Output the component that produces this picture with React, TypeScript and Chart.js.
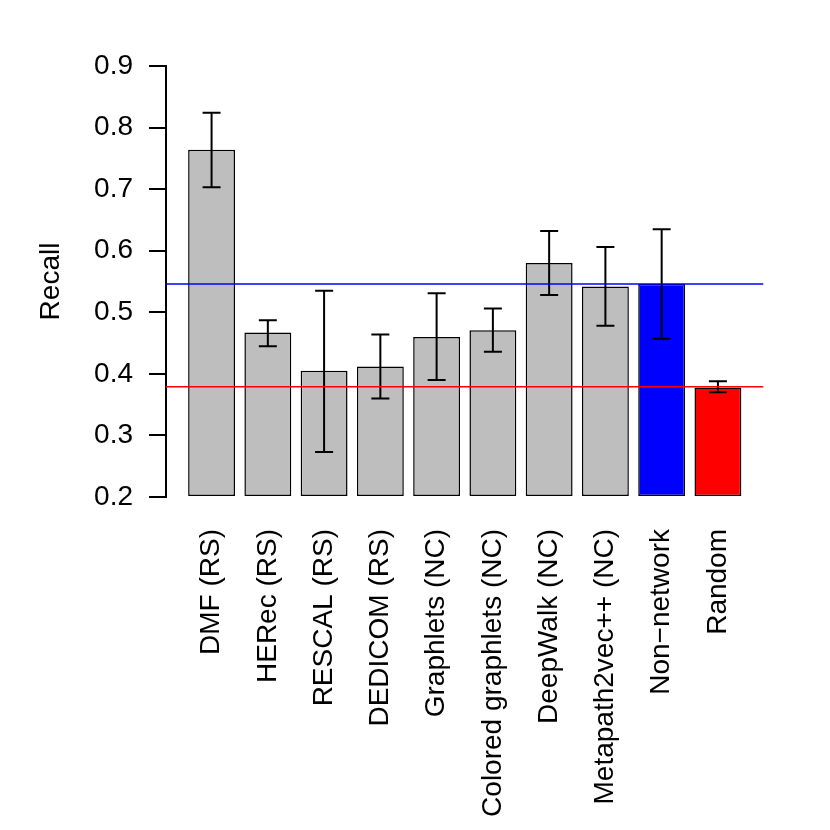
import React, { useEffect, useRef } from "react";
import { Chart, registerables } from "chart.js";

Chart.register(...registerables);

const categories = [
  "DMF (RS)",
  "HERec (RS)",
  "RESCAL (RS)",
  "DEDICOM (RS)",
  "Graphlets (NC)",
  "Colored graphlets (NC)",
  "DeepWalk (NC)",
  "Metapath2vec++ (NC)",
  "Non\u2212network",
  "Random",
];
const recall = [0.764, 0.467, 0.405, 0.412, 0.460, 0.471, 0.580, 0.542, 0.546, 0.378];
const errLow = [0.703, 0.445, 0.273, 0.360, 0.390, 0.436, 0.528, 0.478, 0.457, 0.370];
const errHigh = [0.824, 0.487, 0.535, 0.464, 0.531, 0.506, 0.632, 0.606, 0.635, 0.388];
const barColors = ["#BEBEBE", "#BEBEBE", "#BEBEBE", "#BEBEBE", "#BEBEBE", "#BEBEBE", "#BEBEBE", "#BEBEBE", "#0000FF", "#FF0000"];
const nonNetworkLine = 0.546;
const randomLine = 0.379;
const yTicks = [0.2, 0.3, 0.4, 0.5, 0.6, 0.7, 0.8, 0.9];

// R barplot geometry: width 1, space 0.2
const centers = categories.map((_, i) => 0.7 + 1.2 * i);
const xMin = -0.272;
const xMax = 12.472;

const FONT = "'Liberation Sans', Arial, Helvetica, sans-serif";
const FS = 28;

const errorBarPlugin = {
  id: "errorBars",
  afterDatasetDraw(chart: any, args: any) {
    if (args.index !== 0) return;
    const ctx = chart.ctx;
    const yScale = chart.scales.y;
    const meta = chart.getDatasetMeta(0);
    ctx.save();
    ctx.strokeStyle = "#000";
    ctx.lineWidth = 2;
    meta.data.forEach((el: any, i: number) => {
      const x = el.x;
      const yl = yScale.getPixelForValue(errLow[i]);
      const yh = yScale.getPixelForValue(errHigh[i]);
      ctx.beginPath();
      ctx.moveTo(x, yl);
      ctx.lineTo(x, yh);
      ctx.moveTo(x - 9, yl);
      ctx.lineTo(x + 9, yl);
      ctx.moveTo(x - 9, yh);
      ctx.lineTo(x + 9, yh);
      ctx.stroke();
    });
    ctx.restore();
  },
};

export default function App() {
  const ref = useRef<HTMLCanvasElement>(null);
  useEffect(() => {
    if (!ref.current) return;
    Chart.defaults.font.family = FONT;
    const chart = new Chart(ref.current, {
      type: "bar",
      data: {
        datasets: [
          {
            type: "bar",
            data: centers.map((x, i) => ({ x, y: recall[i] })),
            backgroundColor: barColors,
            borderColor: "#000",
            borderWidth: 1.5,
            borderSkipped: false,
            base: 0.2,
            categoryPercentage: 1,
            barPercentage: 1 / 1.2,
            order: 2,
          } as any,
          {
            type: "line",
            data: [
              { x: xMin, y: nonNetworkLine },
              { x: xMax, y: nonNetworkLine },
            ],
            borderColor: "#0000FF",
            borderWidth: 1.5,
            pointRadius: 0,
            order: 1,
          },
          {
            type: "line",
            data: [
              { x: xMin, y: randomLine },
              { x: xMax, y: randomLine },
            ],
            borderColor: "#FF0000",
            borderWidth: 1.5,
            pointRadius: 0,
            order: 1,
          },
        ],
      },
      options: {
        animation: false,
        responsive: false,
        devicePixelRatio: 1,
        layout: { padding: { top: 66, right: 66.5, left: 0, bottom: 0 } },
        plugins: { legend: { display: false }, tooltip: { enabled: false } },
        scales: {
          x: {
            type: "linear",
            offset: false,
            min: xMin,
            max: xMax,
            afterBuildTicks: (scale: any) => {
              scale.ticks = centers.map((v) => ({ value: v }));
            },
            afterFit: (scale: any) => {
              scale.height = 333;
            },
            grid: { display: false },
            border: { display: false },
            ticks: {
              autoSkip: false,
              maxRotation: 90,
              minRotation: 90,
              padding: 24,
              color: "#000",
              font: { size: FS, family: FONT },
              callback: (_v: any, i: number) => categories[i],
            },
          },
          y: {
            min: 0.2,
            max: 0.9,
            afterBuildTicks: (scale: any) => {
              scale.ticks = yTicks.map((v) => ({ value: v }));
            },
            afterFit: (scale: any) => {
              scale.width = 166;
            },
            grid: {
              drawOnChartArea: false,
              tickLength: 17,
              color: "#000",
              lineWidth: 2,
            },
            border: { display: true, color: "#000", width: 2 },
            ticks: {
              padding: 16,
              color: "#000",
              font: { size: FS, family: FONT },
              callback: (v: any) => Number(v).toFixed(1),
            },
            title: {
              display: true,
              text: "Recall",
              color: "#000",
              font: { size: FS, family: FONT },
              padding: { top: 34, bottom: 0 },
            },
          },
        },
      },
      plugins: [errorBarPlugin],
    });
    return () => chart.destroy();
  }, []);
  return (
    <canvas
      ref={ref}
      width={830}
      height={830}
      style={{ position: "absolute", left: 0, top: 0, display: "block", background: "#fff" }}
    />
  );
}
